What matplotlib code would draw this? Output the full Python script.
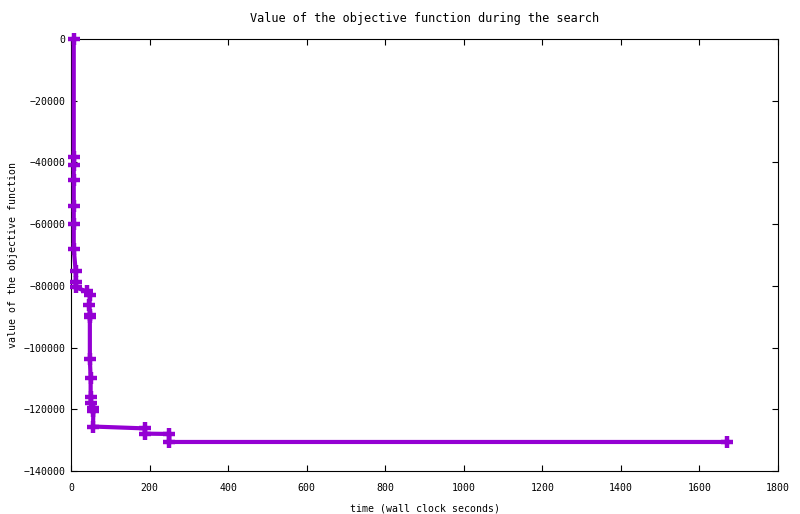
import matplotlib
matplotlib.use("Agg")
import matplotlib.pyplot as plt

# search trace: wall clock time (s) and objective value
time_s = [7, 7, 7, 7, 7, 7, 7, 12, 12, 12, 40, 48, 47, 48, 48, 48,
          50, 50, 50, 57, 57, 56, 188, 188, 250, 250, 1669]
objective = [0, -38100, -40700, -45700, -54000, -59900, -68000, -75300,
             -78700, -80500, -81800, -82900, -86200, -89300, -90200, -103700,
             -110000, -116000, -118000, -119500, -120500, -125600,
             -126200, -127900, -128000, -130600, -130600]

xticks = list(range(0, 1801, 200))
yticks = list(range(-140000, 1, 20000))

plt.rcParams['font.family'] = ['DejaVu Sans Mono']
plt.rcParams['font.size'] = 7.1

fig = plt.figure(figsize=(8, 5.14), dpi=100)
ax = fig.add_axes([0.08875, 0.0837, 0.88375, 0.8404])

ax.plot(time_s, objective, color='#9400d3', linewidth=3,
        marker='+', markersize=9, markeredgewidth=3.2,
        clip_on=False, zorder=5)

ax.set_xlim(0, 1800)
ax.set_ylim(-140000, 0)
ax.set_xticks(xticks)
ax.set_yticks(yticks)
ax.tick_params(direction='in', length=4.3, width=0.8, top=True, right=True)
ax.tick_params(axis='x', pad=9)
ax.tick_params(axis='y', pad=4)
for s in ax.spines.values():
    s.set_linewidth(0.8)

ax.set_title("Value of the objective function during the search", pad=12)
ax.set_xlabel("time (wall clock seconds)", labelpad=7)
ax.set_ylabel("value of the objective function", labelpad=4)

fig.savefig("out.png", dpi=100)
